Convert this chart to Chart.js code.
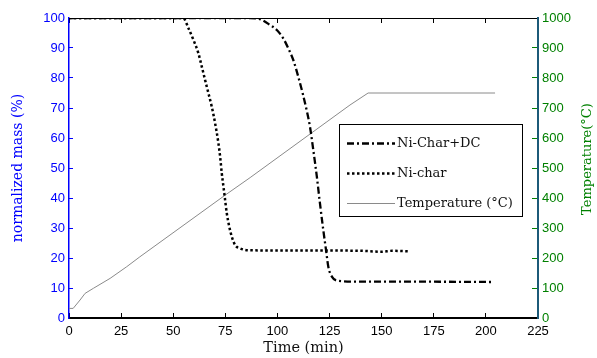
<!DOCTYPE html>
<html>
<head>
<meta charset="utf-8">
<script src="https://cdn.jsdelivr.net/npm/chart.js@4/dist/chart.umd.min.js"></script>
<style>
  html, body { margin: 0; padding: 0; background: #fff; }
  #wrap { width: 597px; height: 358px; position: relative; }
</style>
</head>
<body>
<div id="wrap"><canvas id="tgaChart"></canvas></div>
<script>
// x ticks (min)
const timeTicks = [0, 25, 50, 75, 100, 125, 150, 175, 200, 225];

// Ni-char (dotted)
const charTime = [0, 20, 40, 52, 54.9, 57.3, 59.7, 62.1, 63.7, 65.3, 66.9, 68.5, 70.1, 71.7, 72.5, 73.3, 74.1, 74.9, 75.7, 76.9, 78.1, 79.7, 82.1, 86, 100, 120, 140, 150, 155, 163.6];
const charMass = [100, 100, 100, 100, 99.9, 96.6, 92.7, 88.2, 83.8, 79.3, 74.9, 70.4, 64.9, 58.2, 53.8, 48.2, 43.8, 39.3, 34.9, 30.4, 27.1, 24.3, 23.2, 22.6, 22.5, 22.5, 22.4, 22.1, 22.4, 22.2];

// Ni-Char+DC (dash-dot)
const dcTime = [0, 40, 80, 86.9, 91.7, 96.4, 99.7, 102.8, 105.2, 107.6, 110, 112.1, 114, 115.6, 117.2, 118.9, 120.4, 122, 123.3, 124.4, 126.1, 129.2, 140, 170, 202.8];
const dcMass = [100, 100, 100, 100, 99.6, 97.7, 96, 93.2, 89.9, 86, 80.4, 74.9, 69.3, 63.8, 56, 47.1, 38.2, 29.3, 22.7, 17.1, 13.8, 12.4, 12.1, 12.1, 12.0];

// Temperature (°C), right axis
const tempTime = [0, 2, 5.3, 7.7, 11.7, 19.7, 27.7, 34, 75, 86.9, 134.8, 143.5, 204.4];
const tempVals = [32, 32, 60, 82, 99, 132, 171, 204, 410, 468, 710, 750, 750];

const serif = "'DejaVu Serif', serif";
const sans = "'Liberation Sans', Arial, sans-serif";

function toPoints(xs, ys) {
  return xs.map((x, i) => ({ x: x, y: ys[i] }));
}

// legend drawn inside the plot, like the matlab box
const boxLegend = {
  id: "boxLegend",
  afterDatasetsDraw(chart) {
    const ctx = chart.ctx;
    const rows = chart.data.datasets;
    const left = 339.5, top = 124.5, w = 183, h = 92;
    ctx.save();
    ctx.fillStyle = "#fff";
    ctx.fillRect(left, top, w, h);
    ctx.strokeStyle = "#000";
    ctx.lineWidth = 1;
    ctx.setLineDash([]);
    ctx.strokeRect(left, top, w, h);
    rows.forEach((ds, i) => {
      const y = 143.5 + i * 30;
      ctx.beginPath();
      ctx.strokeStyle = ds.borderColor;
      ctx.lineWidth = ds.borderWidth;
      ctx.setLineDash(ds.borderDash || []);
      ctx.moveTo(347, y);
      ctx.lineTo(395, y);
      ctx.stroke();
      ctx.setLineDash([]);
      ctx.fillStyle = "#111";
      ctx.font = "13px " + serif;
      ctx.textAlign = "left";
      ctx.textBaseline = "middle";
      ctx.fillText(ds.label, 397, y);
    });
    ctx.restore();
  },
  afterDraw(chart) {
    // right title reads bottom-to-top in the original
    const ctx = chart.ctx;
    ctx.save();
    ctx.translate(588, 159);
    ctx.rotate(-Math.PI / 2);
    ctx.fillStyle = "#008000";
    ctx.font = "13px " + serif;
    ctx.textAlign = "center";
    ctx.textBaseline = "middle";
    ctx.fillText("Temperature(°C)", 0, 0);
    ctx.restore();
  },
};

new Chart(document.getElementById("tgaChart"), {
  type: "line",
  data: {
    datasets: [
      {
        label: "Ni-Char+DC",
        data: toPoints(dcTime, dcMass),
        yAxisID: "y",
        borderColor: "#000",
        borderWidth: 2.3,
        borderDash: [7, 3, 2, 3],
        pointRadius: 0,
        cubicInterpolationMode: "monotone",
      },
      {
        label: "Ni-char",
        data: toPoints(charTime, charMass),
        yAxisID: "y",
        borderColor: "#000",
        borderWidth: 2.5,
        borderDash: [2.5, 2.5],
        pointRadius: 0,
        cubicInterpolationMode: "monotone",
      },
      {
        label: "Temperature (°C)",
        data: toPoints(tempTime, tempVals),
        yAxisID: "y2",
        borderColor: "#8a8a8a",
        borderWidth: 1,
        pointRadius: 0,
        tension: 0,
      },
    ],
  },
  options: {
    responsive: true,
    maintainAspectRatio: false,
    animation: false,
    layout: { padding: 0 },
    plugins: {
      legend: { display: false },
      tooltip: { enabled: false },
    },
    scales: {
      x: {
        type: "linear",
        position: "bottom",
        min: 0,
        max: 225,
        afterBuildTicks: (scale) => {
          scale.ticks = timeTicks.map((v) => ({ value: v }));
        },
        afterFit: (scale) => {
          scale.height = 40;
        },
        border: { color: "#000", width: 2 },
        grid: { drawOnChartArea: false, tickLength: -5, color: "#000" },
        ticks: {
          color: "#000",
          font: { family: sans, size: 13 },
          padding: 11,
          maxRotation: 0,
          callback: (v) => String(v),
        },
        title: {
          display: true,
          text: "Time (min)",
          color: "#111",
          font: { family: serif, size: 14.5 },
          padding: { top: 0, bottom: 1 },
        },
      },
      xTop: {
        type: "linear",
        position: "top",
        min: 0,
        max: 225,
        afterBuildTicks: (scale) => {
          scale.ticks = timeTicks.map((v) => ({ value: v }));
        },
        afterFit: (scale) => {
          scale.height = 18;
        },
        border: { color: "#000", width: 1 },
        grid: { drawOnChartArea: false, tickLength: -5, color: "#000" },
        ticks: { display: false },
      },
      y: {
        type: "linear",
        position: "left",
        min: 0,
        max: 100,
        ticks: {
          stepSize: 10,
          color: "#0000ff",
          font: { family: sans, size: 13 },
          padding: 8,
          callback: (v) => String(v),
        },
        afterFit: (scale) => {
          scale.width = 69;
        },
        border: { color: "#0000ff", width: 1.5 },
        grid: { drawOnChartArea: false, tickLength: -4, color: "#0000ff" },
        title: {
          display: true,
          text: "normalized mass (%)",
          color: "#0000ff",
          font: { family: serif, size: 14 },
          padding: { top: 10, bottom: 0 },
        },
      },
      y2: {
        type: "linear",
        position: "right",
        min: 0,
        max: 1000,
        ticks: {
          stepSize: 100,
          color: "#008000",
          font: { family: sans, size: 13 },
          padding: 10,
          callback: (v) => String(v),
        },
        afterFit: (scale) => {
          scale.width = 59;
        },
        border: { color: "#1c5a78", width: 2 },
        grid: { drawOnChartArea: false, tickLength: -6, color: "#008000" },
      },
    },
  },
  plugins: [boxLegend],
});
</script>
</body>
</html>
